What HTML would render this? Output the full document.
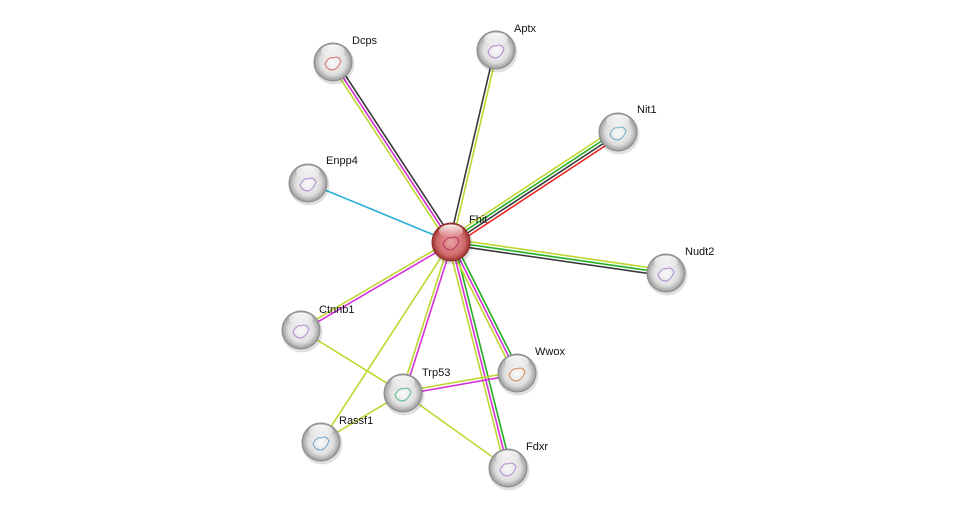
<!DOCTYPE html>
<html><head><meta charset="utf-8"><style>
html,body{margin:0;padding:0;background:#fff;width:975px;height:513px;overflow:hidden}
svg{display:block}
text{font-family:"Liberation Sans",sans-serif;font-size:11px;fill:#111}
</style></head><body>
<svg id="s" width="975" height="513" viewBox="0 0 975 513">
<defs>
<radialGradient id="g" cx="0.5" cy="0.5" r="0.5">
<stop offset="0" stop-color="#fafafa"/><stop offset="0.65" stop-color="#dedede"/><stop offset="0.9" stop-color="#aaaaaa"/><stop offset="1" stop-color="#808080"/>
</radialGradient>
<radialGradient id="r" cx="0.5" cy="0.5" r="0.5">
<stop offset="0" stop-color="#e8a0a0"/><stop offset="0.7" stop-color="#d06a6a"/><stop offset="0.92" stop-color="#a83c3c"/><stop offset="1" stop-color="#7a2020"/>
</radialGradient>
<linearGradient id="hl" x1="0" y1="0" x2="0" y2="1">
<stop offset="0" stop-color="#fff" stop-opacity="0.95"/><stop offset="1" stop-color="#fff" stop-opacity="0"/>
</linearGradient>
</defs>
<g id="edges"></g>
<g id="nodes"></g>
</svg>
<script>
var N={Fhit:[451,242],Dcps:[333,62],Aptx:[496,50],Nit1:[618,132],Enpp4:[308,183],Nudt2:[666,273],
Ctnnb1:[301,330],Trp53:[403,393],Wwox:[517,373],Rassf1:[321,442],Fdxr:[508,468]};
var Y="#bfd62e",M="#d530d5",G="#22b022",K="#3a3a3a",R="#f02020",C="#2ab0d8";
var E=[["Fhit","Dcps",[Y,M,K]],["Fhit","Aptx",[K,Y]],["Fhit","Nit1",[Y,G,K,R]],["Fhit","Enpp4",[C]],
["Fhit","Nudt2",[Y,G,K]],["Fhit","Ctnnb1",[M,Y]],["Fhit","Rassf1",[Y]],["Fhit","Trp53",[M,Y]],
["Fhit","Fdxr",[G,M,Y]],["Fhit","Wwox",[G,M,Y]],["Ctnnb1","Trp53",[Y]],["Trp53","Wwox",[Y,M]],
["Trp53","Rassf1",[Y]],["Trp53","Fdxr",[Y]]];
var ns="http://www.w3.org/2000/svg",eg=document.getElementById("edges"),ng=document.getElementById("nodes");
E.forEach(function(e){var a=N[e[0]],b=N[e[1]],dx=b[0]-a[0],dy=b[1]-a[1],L=Math.hypot(dx,dy),px=-dy/L,py=dx/L,n=e[2].length;
e[2].forEach(function(c,i){var o=(i-(n-1)/2)*3;var l=document.createElementNS(ns,"line");
l.setAttribute("x1",a[0]+px*o);l.setAttribute("y1",a[1]+py*o);l.setAttribute("x2",b[0]+px*o);l.setAttribute("y2",b[1]+py*o);
l.setAttribute("stroke",c);l.setAttribute("stroke-width","1.6");eg.appendChild(l);});});
var lab={Fhit:[18,-23],Dcps:[19,-22],Aptx:[18,-22],Nit1:[19,-23],Enpp4:[18,-23],Nudt2:[19,-22],Ctnnb1:[18,-21],
Trp53:[19,-21],Wwox:[18,-22],Rassf1:[18,-22],Fdxr:[18,-22]};
var pc={Fhit:"#b02060",Dcps:"#d05050",Trp53:"#30b070",Wwox:"#d07030",Rassf1:"#5090c0",Nit1:"#50a0c0"};
for(var k in N){var p=N[k],r=19.5,red=k=="Fhit";
var h='<circle cx="'+(p[0]+1)+'" cy="'+(p[1]+2)+'" r="'+(r+1)+'" fill="#000" opacity="0.12"/>'+
'<circle cx="'+p[0]+'" cy="'+p[1]+'" r="'+r+'" fill="url(#'+(red?'r':'g')+')"/>'+
'<path d="M'+(p[0]-8)+' '+(p[1]+2)+' q4 -8 8 -6 q5 -3 8 3 q-3 8 -8 9 q-6 0 -8 -6z" fill="none" stroke="'+(pc[k]||"#a070c8")+'" stroke-width="1" opacity="0.8"/>'+
'<ellipse cx="'+p[0]+'" cy="'+(p[1]-11)+'" rx="12" ry="6.5" fill="url(#hl)"/>'+
'<text x="'+(p[0]+lab[k][0])+'" y="'+(p[1]+lab[k][1]+4)+'">'+k+'</text>';
var g=document.createElementNS(ns,"g");g.innerHTML=h;ng.appendChild(g);}
</script>
</body></html>
